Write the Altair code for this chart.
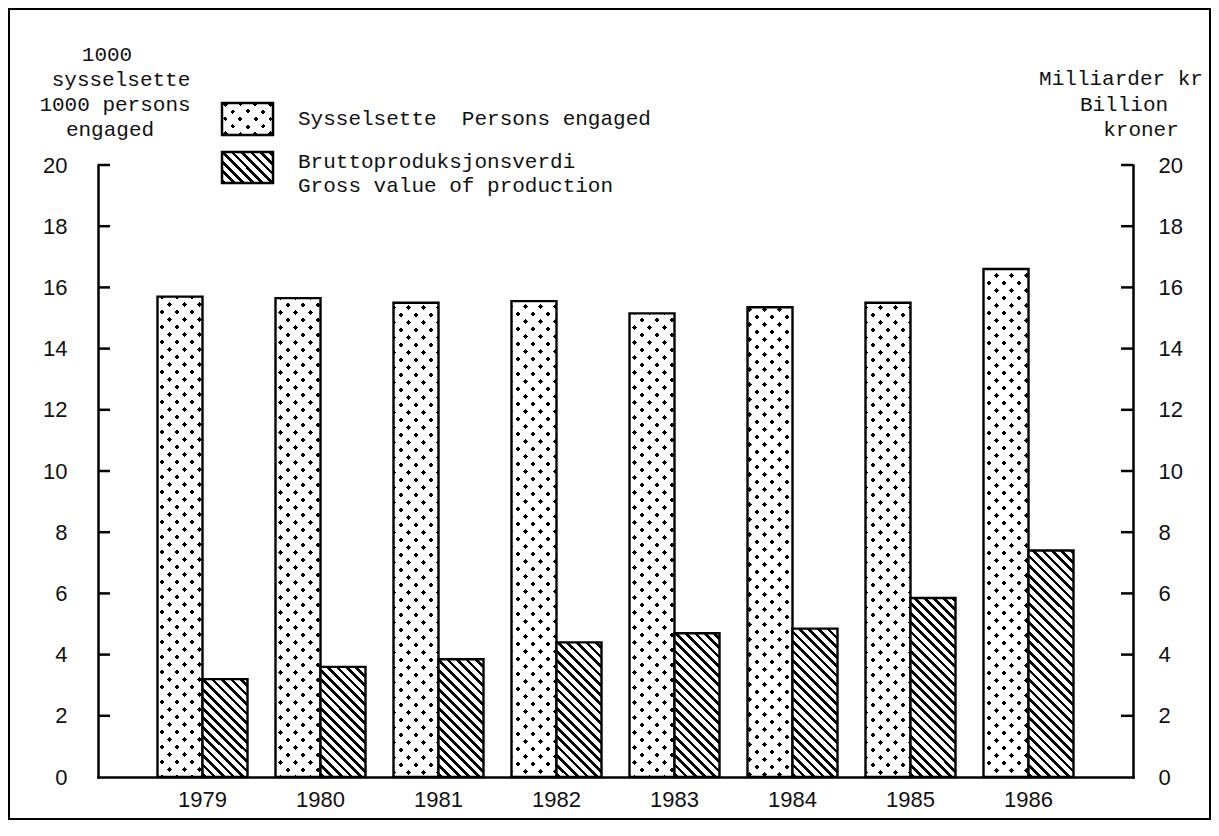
import altair as alt
import pandas as pd

# ---------------- data ----------------
years = ["1979", "1980", "1981", "1982", "1983", "1984", "1985", "1986"]
persons = [15.7, 15.65, 15.5, 15.55, 15.15, 15.35, 15.5, 16.6]   # 1000 persons engaged
gross = [3.2, 3.6, 3.85, 4.4, 4.7, 4.85, 5.85, 7.4]               # billion kroner
series_keys = ["persons", "gross"]
tick_values = [0, 2, 4, 6, 8, 10, 12, 14, 16, 18, 20]
left_title = ["1000", "sysselsette", "1000 persons", "engaged"]
right_title = ["Milliarder kr", "Billion", "kroner"]
legend_persons = "Sysselsette\u00a0 Persons engaged"
legend_gross = ["Bruttoproduksjonsverdi", "Gross value of production"]

# ---------------- layout / style ----------------
W, H = 1035, 612
YMAX = 20
STEP, BAND = 118.0, 90.0
P_INNER = (STEP - BAND) / STEP
P_OUTER = (W / STEP - len(years) + P_INNER) / 2
BAR_W = BAND / 2
OX, OY = 98, 165  # page position of plot origin

MONO = "Liberation Mono"
SANS = "Liberation Sans"
INK = "#111111"
CLEAR = "rgba(255,255,255,0)"

xscale = alt.Scale(domain=years, paddingInner=P_INNER, paddingOuter=P_OUTER)
oscale = alt.Scale(domain=series_keys, paddingInner=0, paddingOuter=0)
yscale = alt.Scale(domain=[0, YMAX], nice=False, zero=True)


def stripes(w, h, direction, period, width, on, off, phase=0.0):
    """Linear gradient drawing 45-degree stripes inside a w x h box."""
    L = w + h
    t = L / (w * w + h * h)
    if direction == "back":
        x1, y1, x2, y2 = 0.0, 1.0, t * w, 1.0 - t * h
    else:
        x1, y1, x2, y2 = 0.0, 0.0, t * w, t * h
    stops = [(0.0, off)]
    start = phase - period
    while start < L:
        s0, s1 = max(start, 0.0), min(start + width, L)
        if s1 > s0:
            stops += [(s0 / L, off), (s0 / L, on), (s1 / L, on), (s1 / L, off)]
        start += period
    stops.append((1.0, off))
    return alt.LinearGradient(
        gradient="linear",
        stops=[alt.GradientStop(offset=round(o, 5), color=c) for o, c in stops],
        x1=round(x1, 5), y1=round(y1, 5), x2=round(x2, 5), y2=round(y2, 5),
    )


def dots_fills(w, h):
    a = stripes(w, h, "back", 15.0, 5.0, "black", "white", phase=2.0)
    b = stripes(w, h, "fwd", 15.0, 5.0, CLEAR, "white", phase=2.0)
    return a, b


def hatch_fill(w, h):
    return stripes(w, h, "back", 9.5, 3.8, "black", "white", phase=1.0)


def bar_enc():
    return dict(
        x=alt.X("year:N", scale=xscale, axis=None),
        xOffset=alt.XOffset("series:N", scale=oscale),
        y=alt.Y("value:Q", scale=yscale, axis=None),
    )


long_df = pd.DataFrame(
    [{"year": y, "series": "persons", "value": v} for y, v in zip(years, persons)]
    + [{"year": y, "series": "gross", "value": v} for y, v in zip(years, gross)]
)

one = pd.DataFrame({"k": [0]})

axis_common = dict(
    ticks=False, tickSize=0, grid=False, title=None,
    domainColor="black", domainWidth=2.5, domainCap="square",
    labelFont=SANS, labelFontSize=22, labelColor=INK,
)

# base layer: white bars + left and bottom axes
base = alt.Chart(long_df).mark_bar(fill="white").encode(
    x=alt.X("year:N", scale=xscale,
            axis=alt.Axis(orient="bottom", labelAngle=0, labelPadding=12, **axis_common)),
    xOffset=alt.XOffset("series:N", scale=oscale),
    y=alt.Y("value:Q", scale=yscale,
            axis=alt.Axis(orient="left", values=tick_values, labelPadding=31, **axis_common)),
)

layers = [base]

for yr, v in zip(years, persons):
    d = pd.DataFrame([{"year": yr, "series": "persons", "value": v}])
    a, b = dots_fills(BAR_W, v * H / YMAX)
    layers.append(alt.Chart(d).mark_bar(fill=a).encode(**bar_enc()))
    layers.append(alt.Chart(d).mark_bar(fill=b, stroke="black", strokeWidth=2.4).encode(**bar_enc()))

for yr, v in zip(years, gross):
    d = pd.DataFrame([{"year": yr, "series": "gross", "value": v}])
    layers.append(alt.Chart(d).mark_bar(fill=hatch_fill(BAR_W, v * H / YMAX),
                                        stroke="black", strokeWidth=2.4).encode(**bar_enc()))

# inward tick marks
tick_df = pd.DataFrame({"v": [t for t in tick_values if t > 0]})
left_ticks = alt.Chart(tick_df).mark_rule(color="black", strokeWidth=2.5).encode(
    y=alt.Y("v:Q", scale=yscale, axis=None), x=alt.value(0), x2=alt.value(12))
right_ticks = alt.Chart(tick_df).mark_rule(color="black", strokeWidth=2.5).encode(
    y=alt.Y("v:Q", scale=yscale,
            axis=alt.Axis(orient="right", values=tick_values, labelPadding=25, **axis_common)),
    x=alt.value(W - 12), x2=alt.value(W))
layers += [left_ticks, right_ticks]

# frame
frame = alt.Chart(one).mark_rect(fillOpacity=0, stroke="black", strokeWidth=2).encode(
    x=alt.value(-89), x2=alt.value(W + 77), y=alt.value(-156), y2=alt.value(H + 42))
layers.append(frame)


def text_line(s, px, py, align):
    return alt.Chart(one).mark_text(font=MONO, fontSize=21, color=INK, align=align,
                                    baseline="alphabetic").encode(
        x=alt.value(px - OX), y=alt.value(py - OY), text=alt.value(s))


for s, cx, by in zip(left_title, [107, 121, 115, 110], [61, 86, 111, 136]):
    layers.append(text_line(s, cx, by, "center"))
for s, cx, by in zip(right_title, [1121, 1124, 1141], [85, 111, 136]):
    layers.append(text_line(s, cx, by, "center"))

# legend
LX0, LX1 = 222, 273
B1 = (103, 135)
B2 = (152, 183)
la, lb = dots_fills(LX1 - LX0, B1[1] - B1[0])
for f, extra in [(la, {}), (lb, {"stroke": "black", "strokeWidth": 2.5})]:
    layers.append(alt.Chart(one).mark_rect(fill=f, **extra).encode(
        x=alt.value(LX0 - OX), x2=alt.value(LX1 - OX),
        y=alt.value(B1[0] - OY), y2=alt.value(B1[1] - OY)))
layers.append(alt.Chart(one).mark_rect(fill=hatch_fill(LX1 - LX0, B2[1] - B2[0]),
                                       stroke="black", strokeWidth=2.5).encode(
    x=alt.value(LX0 - OX), x2=alt.value(LX1 - OX),
    y=alt.value(B2[0] - OY), y2=alt.value(B2[1] - OY)))
layers.append(text_line(legend_persons, 298, 125, "left"))
layers.append(text_line(legend_gross[0], 298, 168, "left"))
layers.append(text_line(legend_gross[1], 298, 192, "left"))

chart = alt.layer(*layers).resolve_axis(x="independent", y="independent").properties(
    width=W, height=H,
    padding={"left": 90, "top": 157, "right": 78, "bottom": 45},
    autosize=alt.AutoSizeParams(type="none"),
    background="white",
).configure_view(strokeWidth=0)

chart.save("out.html", embed_options={"renderer": "svg", "actions": False})
